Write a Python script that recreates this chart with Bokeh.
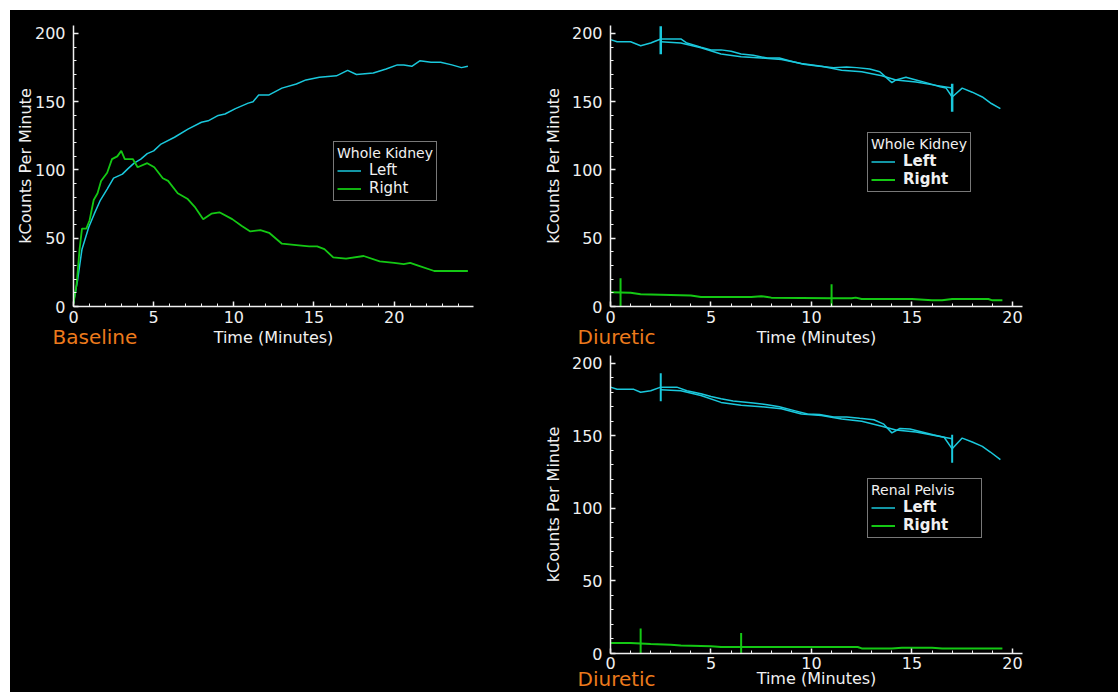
import math
from bokeh.plotting import figure
from bokeh.layouts import row, column
from bokeh.models import Range1d, FixedTicker, Legend, LegendItem, Title, Spacer
from bokeh.embed import file_html
from bokeh.resources import INLINE

# ---------------- data ----------------
# Baseline, whole kidney
baseline_left_t = [0, 0.25, 0.53, 0.95, 1.3, 1.68, 2.1, 2.5, 3.05, 3.4, 3.78, 4.2, 4.6, 5.0,
                   5.46, 6.3, 7.14, 7.98, 8.4, 9.03, 9.45, 10.1, 10.9, 11.2, 11.55, 12.2, 13.0,
                   13.9, 14.5, 15.34, 16.4, 17.1, 17.65, 18.7, 19.5, 20.2, 20.6, 21.1, 21.6,
                   22.3, 22.9, 23.6, 24.2, 24.6]
baseline_left = [3, 19, 42, 58, 68, 78, 86, 94, 97, 101, 105, 108, 112, 114,
                 119, 124, 130, 135, 136, 140, 141, 145, 149, 150, 155, 155, 160,
                 163, 166, 168, 169, 173, 170, 171, 174, 177, 177, 176, 180,
                 179, 179, 177, 175, 176]
baseline_right_t = [0, 0.2, 0.38, 0.53, 0.8, 1.0, 1.26, 1.5, 1.72, 2.1, 2.4, 2.73, 2.98, 3.2,
                    3.7, 4.0, 4.6, 5.04, 5.57, 5.9, 6.5, 7.1, 7.56, 8.09, 8.6, 9.1, 9.9, 10.5,
                    11.03, 11.66, 12.2, 13.0, 13.9, 14.7, 15.2, 15.65, 16.2, 17.0, 18.1, 19.1,
                    20.0, 20.6, 21.0, 21.5, 22.5, 24.6]
baseline_right = [2, 17, 42, 57, 57, 63, 78, 83, 92, 98, 108, 110, 114, 108,
                  108, 102, 105, 102, 94, 92, 83, 79, 73, 64, 68, 69, 64, 59,
                  55, 56, 54, 46, 45, 44, 44, 42, 36, 35, 37, 33,
                  32, 31, 32, 30, 26, 26]

# Diuretic, whole kidney
diuretic_wk_left_t = [0, 0.33, 1.0, 1.5, 2.0, 2.5, 3.0, 3.5, 3.8, 4.5, 5.0, 5.5, 6.0, 6.5, 7.1,
                      7.8, 8.4, 8.9, 9.6, 9.9, 10.4, 11.1, 11.75, 12.25, 12.9, 13.4, 13.7, 14.0,
                      14.2, 14.7, 15.2, 15.7, 16.4, 16.7, 17.0, 17.5, 18.0, 18.5, 18.95, 19.4]
diuretic_wk_left = [195.5, 194, 194, 191, 193, 196, 196, 196, 193, 190, 188, 188, 187, 185, 184,
                    182, 182, 180, 177.5, 177, 176, 175, 175.5, 175, 174, 172, 168, 164,
                    166, 168, 166, 164, 161, 160, 153.5, 160, 157, 153.5, 148.7, 145]
diuretic_wk_left_fit_t = [2.5, 3.5, 4.5, 5.5, 6.5, 7.5, 8.5, 9.5, 10.5, 11.5, 12.5, 13.5, 14.2,
                          15.2, 16.2, 17.0]
diuretic_wk_left_fit = [194, 193, 189.5, 185, 183, 182, 181, 178, 176, 173, 172, 169, 166,
                        164.5, 162, 160]
diuretic_wk_right_t = [0, 1.0, 1.5, 3.0, 4.0, 4.5, 5.0, 7.0, 7.5, 7.8, 8.0, 11.0, 12.0, 12.2,
                       12.5, 15.0, 16.0, 16.5, 17.0, 18.8, 19.0, 19.5]
diuretic_wk_right = [10.5, 10, 9, 8.5, 8, 7, 7, 7, 7.5, 7, 6.5, 6, 6, 6.5,
                     5.5, 5.5, 4.5, 4.5, 5.5, 5.5, 4.5, 4.5]
diuretic_wk_left_marks_t = [2.5, 17.0]
diuretic_wk_left_marks = [195, 153]
diuretic_wk_right_marks_t = [0.5, 11.0]
diuretic_wk_right_marks = [10.5, 6.0]

# Diuretic, renal pelvis
diuretic_rp_left_t = [0, 0.33, 1.16, 1.5, 2.0, 2.5, 3.3, 3.8, 4.5, 5.0, 5.5, 6.1, 7.1, 7.8, 8.4,
                      9.1, 9.8, 10.4, 11.1, 11.75, 12.4, 13.1, 13.6, 14.0, 14.4, 14.9, 15.4,
                      16.05, 16.6, 17.0, 17.5, 18.0, 18.5, 18.9, 19.4]
diuretic_rp_left = [183.5, 182, 182, 180, 181, 183.5, 183.5, 181, 179, 177, 175.5, 174, 172.5,
                    171.4, 170, 167.5, 165, 164.7, 163, 163, 162, 161, 158, 152, 155, 154.6,
                    153, 150.7, 149, 141, 148.4, 145.7, 142.7, 138.8, 133.5]
diuretic_rp_left_fit_t = [2.5, 3.5, 4.5, 5.5, 6.5, 7.5, 8.5, 9.5, 10.5, 11.5, 12.5, 13.5, 14.2,
                          15.2, 16.2, 17.0]
diuretic_rp_left_fit = [181.7, 181, 177.8, 173, 171, 170, 168.6, 165, 164, 161.5, 160, 156.5,
                        154, 152.6, 150, 148]
diuretic_rp_right_t = [0, 1.0, 2.0, 3.0, 3.5, 5.0, 5.5, 12.3, 12.5, 14.0, 14.5, 16.0, 16.5, 19.5]
diuretic_rp_right = [7.3, 7.3, 6.5, 6, 5.5, 5, 4.5, 4.5, 3.5, 3.5, 4, 4, 3.5, 3.5]
diuretic_rp_left_marks_t = [2.5, 17.0]
diuretic_rp_left_marks = [183.5, 141]
diuretic_rp_right_marks_t = [1.5, 6.5]
diuretic_rp_right_marks = [7.5, 4.5]

x_major_ticks = [0, 5, 10, 15, 20]
y_major_ticks = [0, 50, 100, 150, 200]
series_labels = ["Left", "Right"]

# ---------------- styles ----------------
CYAN = "#1ac8dc"
GREEN = "#14c814"
ORANGE = "#ec7a1c"
FG = "#f0f0f0"
FONT = "DejaVu Sans"


def make_panel(width, height, x_end, y_end, bl, br, bt, bb,
               xl_standoff=4, xa_standoff=2, ya_standoff=6):
    p = figure(width=width, height=height, output_backend="svg", toolbar_location=None,
               x_range=Range1d(0, x_end), y_range=Range1d(0, y_end),
               min_border_left=bl, min_border_right=br, min_border_top=bt, min_border_bottom=bb,
               background_fill_color="black", border_fill_color="black")
    p.outline_line_color = None
    p.grid.visible = False
    p.xaxis.ticker = FixedTicker(ticks=x_major_ticks, minor_ticks=list(range(0, int(x_end) + 1)))
    p.yaxis.ticker = FixedTicker(ticks=y_major_ticks, minor_ticks=list(range(0, 201, 10)))
    for ax in (p.xaxis[0], p.yaxis[0]):
        ax.axis_line_color = FG
        ax.axis_line_width = 1.5
        ax.major_tick_line_color = FG
        ax.major_tick_line_width = 1.5
        ax.minor_tick_line_color = FG
        ax.major_tick_in = 5
        ax.major_tick_out = 0
        ax.minor_tick_in = 3
        ax.minor_tick_out = 0
        ax.major_label_text_color = FG
        ax.major_label_text_font = FONT
        ax.major_label_text_font_size = "16px"
        ax.axis_label_text_color = FG
        ax.axis_label_text_font = FONT
        ax.axis_label_text_font_size = "16px"
        ax.axis_label_text_font_style = "normal"
    p.xaxis.axis_label = "Time (Minutes)"
    p.yaxis.axis_label = "kCounts Per Minute"
    p.xaxis.major_label_standoff = xl_standoff
    p.xaxis.axis_label_standoff = xa_standoff
    p.yaxis.major_label_standoff = 8
    p.yaxis.axis_label_standoff = ya_standoff
    return p


def add_legend(p, title, r_left, r_right, loc, bold, label_width=20):
    lg = Legend(
        items=[LegendItem(label=series_labels[0], renderers=[r_left]),
               LegendItem(label=series_labels[1], renderers=[r_right])],
        location=loc, title=title,
        title_text_color=FG, title_text_font=FONT, title_text_font_size="14px",
        title_text_font_style="normal", title_standoff=0,
        label_text_color=FG, label_text_font=FONT, label_text_font_size="15px",
        label_text_font_style="bold" if bold else "normal",
        border_line_color=FG, border_line_width=1.5,
        background_fill_color="black", background_fill_alpha=1.0,
        padding=3, spacing=0, margin=0, glyph_width=24, glyph_height=15,
        label_height=15, label_width=label_width, label_standoff=8)
    p.add_layout(lg)


def add_tag(p, text, offset, standoff):
    p.add_layout(Title(text=text, align="left", offset=offset, standoff=standoff,
                       vertical_align="top", text_color=ORANGE, text_font=FONT,
                       text_font_size="20px", text_font_style="normal"), "below")


# ---------------- Baseline panel ----------------
p1 = make_panel(528, 682, 24.95, 205.86, 63, 65, 15, 386, ya_standoff=-3)
r1l = p1.line(baseline_left_t, baseline_left, line_color=CYAN, line_width=1.5)
r1r = p1.line(baseline_right_t, baseline_right, line_color=GREEN, line_width=1.8)
add_legend(p1, "Whole Kidney", r1l, r1r, (260, 105), False)
add_tag(p1, "Baseline", -21, -50)

# ---------------- Diuretic, whole kidney ----------------
p2 = make_panel(580, 342, 20.5, 205.86, 72, 96, 15, 46)
r2l = p2.line(diuretic_wk_left_t, diuretic_wk_left, line_color=CYAN, line_width=1.5)
p2.line(diuretic_wk_left_fit_t, diuretic_wk_left_fit, line_color=CYAN, line_width=1.5)
r2r = p2.line(diuretic_wk_right_t, diuretic_wk_right, line_color=GREEN, line_width=2)
p2.scatter(diuretic_wk_left_marks_t, diuretic_wk_left_marks, marker="dash", angle=math.pi / 2,
           size=28, line_color=CYAN, line_width=2.5)
p2.scatter(diuretic_wk_right_marks_t, diuretic_wk_right_marks, marker="dash", angle=math.pi / 2,
           size=28, line_color=GREEN, line_width=2)
add_legend(p2, "Whole Kidney", r2l, r2r, (257, 114), True)
add_tag(p2, "Diuretic", -33, -50)

# ---------------- Diuretic, renal pelvis ----------------
p3 = make_panel(580, 340, 20.5, 205.3, 72, 96, 3, 39, xl_standoff=3, xa_standoff=-3)
r3l = p3.line(diuretic_rp_left_t, diuretic_rp_left, line_color=CYAN, line_width=1.5)
p3.line(diuretic_rp_left_fit_t, diuretic_rp_left_fit, line_color=CYAN, line_width=1.5)
r3r = p3.line(diuretic_rp_right_t, diuretic_rp_right, line_color=GREEN, line_width=2)
p3.scatter(diuretic_rp_left_marks_t, diuretic_rp_left_marks, marker="dash", angle=math.pi / 2,
           size=28, line_color=CYAN, line_width=2)
p3.scatter(diuretic_rp_right_marks_t, diuretic_rp_right_marks, marker="dash", angle=math.pi / 2,
           size=28, line_color=GREEN, line_width=2)
add_legend(p3, "Renal Pelvis", r3l, r3r, (257, 115), True, label_width=75)
add_tag(p3, "Diuretic", -33, -48)

right_col = column(p2, p3, spacing=0, styles={"background-color": "black"})
content = row(p1, right_col, spacing=0, styles={"background-color": "black"})
layout = column(Spacer(width=1118, height=10),
                row(Spacer(width=10, height=682), content, spacing=0),
                spacing=0)

open("out.html", "w").write(file_html(layout, INLINE))
